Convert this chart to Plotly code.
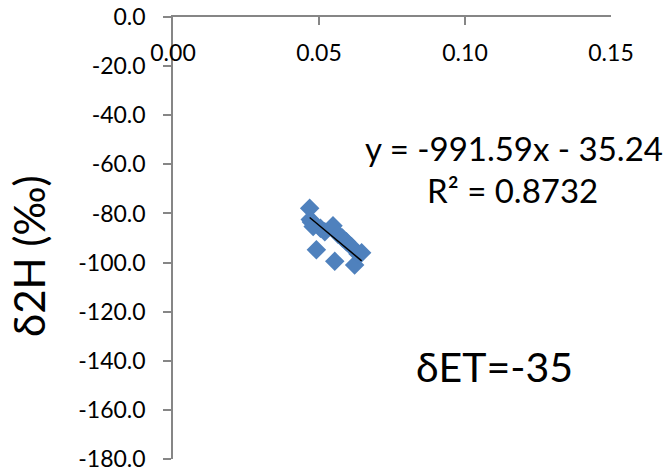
import plotly.graph_objects as go

# data
x_vals = [0.0468, 0.0470, 0.0474, 0.0480, 0.0491, 0.0505, 0.0520, 0.0548, 0.0554,
          0.0565, 0.0580, 0.0594, 0.0611, 0.0622, 0.0634, 0.0646]
y_vals = [-77.9, -82.5, -83.5, -85.3, -94.8, -86.0, -87.5, -85.0, -99.5,
          -88.5, -90.0, -91.5, -93.5, -101.0, -96.5, -96.0]
slope = -991.59
intercept = -35.24
r2 = 0.8732

x_ticks = [0.00, 0.05, 0.10, 0.15]
x_ticktext = ["0.00", "0.05", "0.10", "0.15"]
y_ticks = [0, -20, -40, -60, -80, -100, -120, -140, -160, -180]
y_ticktext = ["0.0", "-20.0", "-40.0", "-60.0", "-80.0", "-100.0", "-120.0", "-140.0", "-160.0", "-180.0"]

FONT = "Lato"
AXIS_COLOR = "#868686"

x_fit = [min(x_vals), max(x_vals)]
y_fit = [slope * v + intercept for v in x_fit]

fig = go.Figure()
fig.add_trace(go.Scatter(
    x=x_vals, y=y_vals, mode="markers",
    marker=dict(symbol="diamond", size=15, color="#4F81BD",
                line=dict(width=0)),
    showlegend=False, cliponaxis=False))
fig.add_trace(go.Scatter(
    x=x_fit, y=y_fit, mode="lines",
    line=dict(color="black", width=1.5),
    showlegend=False))

fig.update_layout(
    width=667, height=473,
    margin=dict(l=173, r=56, t=17, b=14, autoexpand=False),
    paper_bgcolor="white", plot_bgcolor="white",
    font=dict(family=FONT, color="black"),
    xaxis=dict(range=[0, 0.15], side="top", showgrid=False, zeroline=False,
               showline=True, linecolor=AXIS_COLOR, linewidth=1.5,
               tickvals=x_ticks, ticktext=x_ticktext,
               ticks="inside", ticklen=8, tickcolor=AXIS_COLOR, tickwidth=1.5,
               ticklabelposition="inside", ticklabeloverflow="allow",
               ticklabelstandoff=22,
               tickfont=dict(size=23, family=FONT, color="black"),
               automargin=False),
    yaxis=dict(range=[-180, 0], showgrid=False, zeroline=False,
               showline=True, linecolor=AXIS_COLOR, linewidth=1.5,
               tickvals=y_ticks, ticktext=y_ticktext,
               ticks="outside", ticklen=8, tickcolor=AXIS_COLOR, tickwidth=1.5,
               ticklabeloverflow="allow", ticklabelstandoff=13,
               tickfont=dict(size=23, family=FONT, color="black"), automargin=False),
)

fig.add_annotation(xref="paper", yref="paper", x=(29 - 173) / 438, y=1 - (256 - 16.7) / 442.6,
                   text="δ2H (‰)", textangle=-90, showarrow=False,
                   font=dict(size=42, family=FONT), xanchor="center", yanchor="middle")
fig.add_annotation(xref="paper", yref="paper", x=(514 - 173) / 438, y=1 - (148 - 16.7) / 442.6,
                   text=f"y = {slope:.2f}x - {abs(intercept):.2f}", showarrow=False,
                   font=dict(size=33, family=FONT), xanchor="center", yanchor="middle")
fig.add_annotation(xref="paper", yref="paper", x=(512 - 173) / 438, y=1 - (190 - 16.7) / 442.6,
                   text=f"R² = {r2:.4f}", showarrow=False,
                   font=dict(size=33, family=FONT), xanchor="center", yanchor="middle")
fig.add_annotation(xref="paper", yref="paper", x=(494 - 173) / 438, y=1 - (367 - 16.7) / 442.6,
                   text="δET=-35", showarrow=False,
                   font=dict(size=41, family=FONT), xanchor="center", yanchor="middle")

fig.write_html("out.html")
